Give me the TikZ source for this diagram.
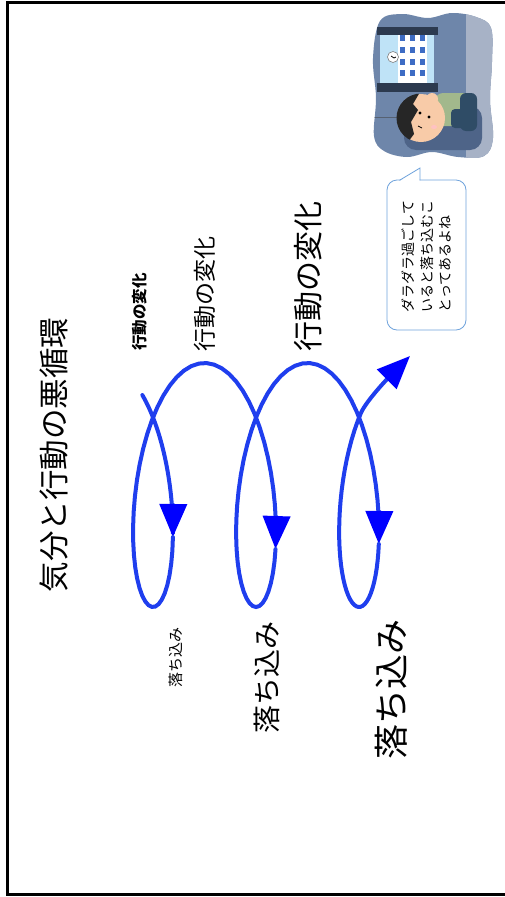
\documentclass[tikz,border=0pt]{standalone}
\usepackage{fontspec}
\newfontfamily\jpfont{Noto Sans CJK JP}
\usepackage{tikz}
\usetikzlibrary{arrows.meta}
\definecolor{LoopBlue}{HTML}{1F3EEE}
\definecolor{TipBlue}{HTML}{0000FF}
\definecolor{BubbleBlue}{HTML}{6FA3DC}
\definecolor{RoomSlate}{HTML}{6E86AA}
\definecolor{RoomPale}{HTML}{A7B2C6}
\definecolor{RoomDark}{HTML}{4E6488}
\definecolor{FrameNavy}{HTML}{2C3A4F}
\definecolor{SkyBlue}{HTML}{BFE3F7}
\definecolor{PaneBlue}{HTML}{3D6CC4}
\definecolor{SkinTone}{HTML}{F8CBA8}
\definecolor{SweaterGreen}{HTML}{A2B88C}
\definecolor{PantsNavy}{HTML}{2F4C66}
\tikzset{
  loopline/.style={draw=LoopBlue,line width=4pt,line cap=round},
  looptip/.style={-{Triangle[length=33pt,width=27pt,color=TipBlue]}},
  vlabel/.style={rotate=90,inner sep=0pt,font=\jpfont},
  talkbox/.style={rotate=90,draw=BubbleBlue,fill=white,rounded corners=10pt,line width=0.8pt,
    minimum width=150pt,minimum height=79pt,text width=114pt,align=left,inner sep=0pt,
    font=\jpfont\fontsize{14}{18.5}\selectfont}
}

\begin{document}
\begin{tikzpicture}[x=1pt,y=-1pt]
  \useasboundingbox (0,0) rectangle (504,897);
  \draw[line width=3pt] (530,2.5) -- (7.5,2.5) -- (7.5,894.5) -- (530,894.5);

  % title and the two label ramps
  \node[vlabel,font=\jpfont\fontsize{30.5}{30.5}\selectfont] (title) at (54,455) {気分と行動の悪循環};
  \node[vlabel,anchor=west,font=\jpfont\bfseries\fontsize{15.5}{15.5}\selectfont] (actsmall) at (140,351) {行動の変化};
  \node[vlabel,anchor=west,font=\jpfont\fontsize{23}{23}\selectfont] (actmid) at (205,352) {行動の変化};
  \node[vlabel,anchor=west,font=\jpfont\fontsize{30}{30}\selectfont] (actlarge) at (308,352) {行動の変化};
  \node[vlabel,anchor=east,font=\jpfont\fontsize{15}{15}\selectfont] (downsmall) at (176,627) {落ち込み};
  \node[vlabel,anchor=east,font=\jpfont\fontsize{28}{28}\selectfont] (downmid) at (267,621) {落ち込み};
  \node[vlabel,anchor=east,font=\jpfont\fontsize{35}{35}\selectfont] (downlarge) at (391,619) {落ち込み};

  % the looping curve, one piece per arrow
  \coordinate (loopend) at (410,356);
  \foreach \ta/\tb in {-2.40/-1.13,-1.13/5.265,5.265/11.50}
    \draw[loopline,looptip] plot[domain=\ta:\tb,samples=50,variable=\t]
      ({153+16.4*\t-42.5*sin(\t r)},{485+122*cos(\t r)});
  \draw[loopline,looptip] plot[domain=11.50:14.766,samples=40,variable=\t]
      ({153+16.4*\t-42.5*sin(\t r)},{485+122*cos(\t r)})
      .. controls (366.8,399.4) and (394,372) .. (loopend);

  % speech bubble
  \node[talkbox] (talk) at (426.5,255) {ダラダラ過ごして\\いると落ち込むこ\\とってあるよね};
  \fill[white] (399.5,181.3) -- (420,168) -- (419.6,181.3) -- cycle;
  \draw[BubbleBlue,line width=0.8pt] (399.5,180.3) -- (420,168) -- (420,180.3);

  % room with the sleeper
  \begin{scope}
    \clip plot[smooth cycle,tension=0.6] coordinates {(380,21) (402,14) (428,18) (452,13) (476,17) (491,28)
      (492,62) (490,100) (493,138) (484,156) (458,157) (432,152) (407,157) (384,151) (374,136) (376,98) (373,58)};
    \fill[RoomSlate] (360,0) rectangle (504,170);
    \fill[RoomPale] (466,0) rectangle (504,170);
    \draw[FrameNavy!80,line width=1pt] (370,117) -- (402,117);
    % window
    \fill[SkyBlue] (380,34) rectangle (434,84);
    \fill[white] (398,33) rectangle (427,86);
    \foreach \px in {402,412,422}
      \foreach \py in {38,50,62,73}
        \fill[PaneBlue] (\px-2.5,\py-3) rectangle (\px+2.5,\py+3);
    \draw[gray,fill=white,line width=0.6pt] (393,57) circle (5.5);
    \draw[black,line width=0.8pt] (391,56) -- (394,58) -- (396,57);
    \fill[FrameNavy] (377,27) rectangle (438,35);
    \fill[FrameNavy] (377,83) rectangle (438,92);
    % couch and body
    \fill[RoomDark,rounded corners=12pt] (404,106) rectangle (482,150);
    \fill[SweaterGreen,rounded corners=8pt] (435,93) rectangle (474,126);
    \fill[PantsNavy,rounded corners=6pt] (460,93) rectangle (477,131);
    \fill[PantsNavy,rounded corners=4pt] (451,109) rectangle (467,128);
    % head
    \fill[SkinTone] (421,118) circle (24);
    \fill[SkinTone] (432,99) circle (6);
    \begin{scope}
      \clip (421,118) circle (24.5);
      \fill[black!85] (393,92) -- (420,92) -- (413,104) -- (418,110) -- (411,122)
        -- (414,134) -- (405,146) -- (393,146) -- cycle;
    \end{scope}
    \fill[black] (420,113) circle (1.6);
    \fill[black] (429,117) circle (1.6);
    \draw[black,line width=0.7pt] (418,126) -- (422,128);
    \fill[pink!80!red!60] (434,127) ellipse (3 and 2);
  \end{scope}
\end{tikzpicture}
\end{document}
